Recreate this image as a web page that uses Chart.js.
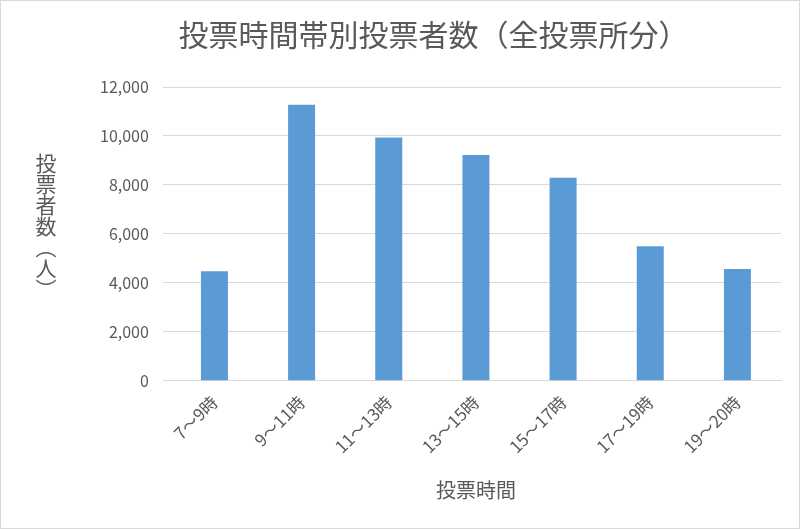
<!DOCTYPE html>
<html><head><meta charset="utf-8">
<script src="https://cdn.jsdelivr.net/npm/chart.js@4/dist/chart.umd.min.js"></script>
<style>
html,body{margin:0;padding:0;background:#fff;}
#wrap{position:relative;width:798px;height:527px;border:1px solid #d9d9d9;}
#ytitle{position:absolute;left:34px;top:152px;writing-mode:vertical-rl;font-family:"Noto Sans CJK JP";font-size:21px;line-height:1;color:#595959;}
</style></head>
<body>
<div id="wrap"><canvas id="c" width="798" height="527"></canvas><div id="ytitle">投票者数（人）</div></div>
<script>
const categories = ['7～9時', '9～11時', '11～13時', '13～15時', '15～17時', '17～19時', '19～20時'];
const voters = [4480, 11280, 9940, 9220, 8290, 5500, 4570];
const yTicks = [0, 2000, 4000, 6000, 8000, 10000, 12000];

const font = "'Noto Sans CJK JP', sans-serif";
new Chart(document.getElementById('c'), {
  type: 'bar',
  data: {
    labels: categories,
    datasets: [{ data: voters, backgroundColor: '#5b9bd5', barPercentage: 0.62, categoryPercentage: 0.5 }]
  },
  options: {
    responsive: false,
    animation: false,
    layout: { padding: { left: 85, right: 18, top: 6, bottom: 22 } },
    plugins: {
      legend: { display: false },
      tooltip: { enabled: false },
      title: {
        display: true,
        text: '投票時間帯別投票者数（全投票所分）',
        color: '#595959',
        font: { family: font, size: 30, weight: 'normal' },
        padding: { top: 10, bottom: 34 }
      }
    },
    scales: {
      x: {
        grid: { display: false },
        border: { color: '#d9d9d9' },
        ticks: { color: '#595959', font: { family: font, size: 17 }, minRotation: 45, maxRotation: 45 },
        title: { display: true, text: '投票時間', color: '#595959', font: { family: font, size: 20 }, padding: { top: 18 } }
      },
      y: {
        min: 0, max: 12000,
        afterBuildTicks: axis => { axis.ticks = yTicks.map(v => ({ value: v })); },
        grid: { color: '#d9d9d9' },
        border: { display: false },
        ticks: {
          color: '#595959', padding: 14,
          font: { family: font, size: 16 },
          callback: v => v.toLocaleString('en-US')
        }
      }
    }
  }
});
</script>
</body></html>
